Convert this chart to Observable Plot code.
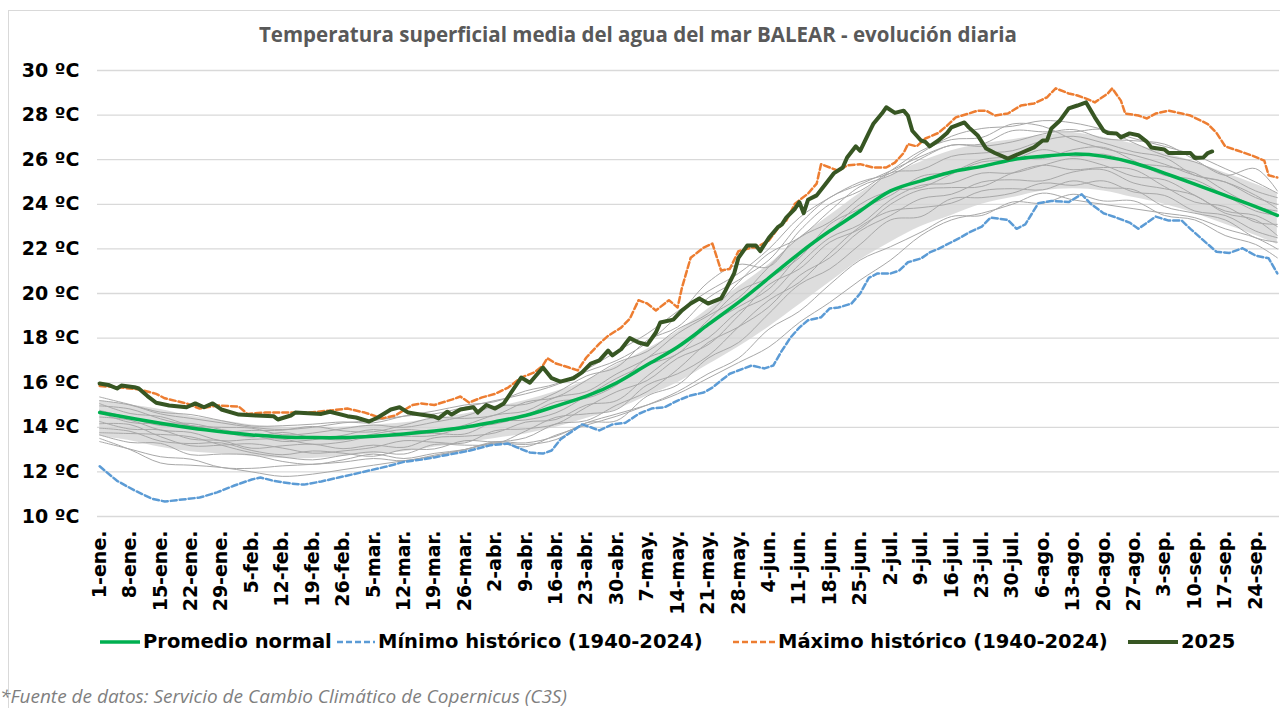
<!DOCTYPE html>
<html><head><meta charset="utf-8">
<script src="https://cdn.jsdelivr.net/npm/d3@7"></script>
<script src="https://cdn.jsdelivr.net/npm/@observablehq/plot@0.6"></script>
<style>
body{margin:0;background:#fff;width:1280px;height:708px;overflow:hidden;position:relative;font-family:"DejaVu Sans",sans-serif}
#frame{position:absolute;left:8px;top:10px;width:1300px;height:720px;border:1px solid #d9d9d9;box-sizing:border-box}
#title{position:absolute;top:20px;left:0;width:1276px;text-align:center;font-family:"Open Sans",sans-serif;font-weight:bold;font-size:20.5px;color:#595959;white-space:nowrap}
#chart{position:absolute;left:0;top:60px}
.leg{position:absolute;top:630px;display:flex;align-items:center;font-family:"DejaVu Sans",sans-serif;font-weight:bold;font-size:19.5px;color:#000;white-space:nowrap}
.leg svg{margin-right:3px}
#caption{position:absolute;left:0;top:683px;font-family:"Open Sans",sans-serif;font-style:italic;font-size:19px;color:#7f7f7f;white-space:nowrap}
</style></head>
<body>
<div id="frame"></div>
<div id="title">Temperatura superficial media del agua del mar BALEAR - evolución diaria</div>
<div id="chart"></div>
<div id="legend"></div>
<div id="caption">*Fuente de datos: Servicio de Cambio Climático de Copernicus (C3S)</div>
<script>
// Days of year (weekly grid) and tick labels
const semanas = [1,8,15,22,29,36,43,50,57,64,71,78,85,92,99,106,113,120,127,134,141,148,155,162,169,176,183,190,197,204,211,218,225,232,239,246,253,260,267,272];
const diasTicks = [1,8,15,22,29,36,43,50,57,64,71,78,85,92,99,106,113,120,127,134,141,148,155,162,169,176,183,190,197,204,211,218,225,232,239,246,253,260,267];
const etiquetasX = ["1-ene.","8-ene.","15-ene.","22-ene.","29-ene.","5-feb.","12-feb.","19-feb.","26-feb.","5-mar.","12-mar.","19-mar.","26-mar.","2-abr.","9-abr.","16-abr.","23-abr.","30-abr.","7-may.","14-may.","21-may.","28-may.","4-jun.","11-jun.","18-jun.","25-jun.","2-jul.","9-jul.","16-jul.","23-jul.","30-jul.","6-ago.","13-ago.","20-ago.","27-ago.","3-sep.","10-sep.","17-sep.","24-sep."];
const ticksY = [10,12,14,16,18,20,22,24,26,28,30];

// Promedio normal (weekly)
const promedio = [14.66,14.42,14.18,13.97,13.8,13.66,13.57,13.54,13.54,13.6,13.7,13.83,14.0,14.25,14.53,14.95,15.4,16.0,16.8,17.6,18.6,19.6,20.7,21.8,22.8,23.7,24.6,25.05,25.45,25.7,26.0,26.15,26.25,26.15,25.85,25.4,24.9,24.4,23.9,23.5];

// Dense core of the historical years (weekly lower / upper edge)
const bandaInf = [13.6,13.4,13.1,12.9,12.8,12.7,12.6,12.6,12.7,12.8,12.9,13.1,13.3,13.5,13.7,14.0,14.4,14.8,15.4,16.0,16.8,17.6,18.5,19.5,20.5,21.5,22.3,23.0,23.5,24.0,24.3,24.6,24.7,24.6,24.3,24.0,23.6,23.1,22.6,22.2];
const bandaSup = [15.2,15.0,14.8,14.5,14.3,14.1,14.0,14.0,14.0,14.1,14.2,14.4,14.6,14.9,15.2,15.6,16.1,16.8,17.5,18.3,19.3,20.3,21.3,22.5,23.5,24.5,25.3,25.9,26.4,26.7,26.9,27.1,27.2,27.0,26.7,26.3,25.9,25.4,24.9,24.5];

// Historical years (gray), weekly values
const gris1 = [15.36,15.02,14.68,14.57,14.3,14.06,14.07,14.14,14.24,14.2,14.5,14.73,15.0,15.15,15.63,15.95,16.6,17.4,18.2,19.2,20.1,20.9,22.0,23.4,24.3,25.0,25.4,26.3,27.05,27.4,27.5,27.75,27.65,27.35,26.95,26.6,26.2,25.6,25.0,24.5];
const gris2 = [14.96,14.82,14.38,14.07,14.0,13.96,13.67,13.74,13.94,14.1,14.0,14.23,14.5,14.95,15.03,15.55,16.3,16.7,17.9,18.5,19.8,20.6,21.5,23.1,24.3,24.9,25.5,26.15,26.65,26.7,27.3,27.25,27.25,27.35,26.75,26.2,25.9,25.3,24.6,24.3];
const gris3 = [14.76,14.42,14.08,14.07,13.8,13.56,13.77,13.54,13.44,13.7,13.9,13.83,14.1,14.55,14.73,15.35,15.6,16.4,17.1,18.2,19.0,19.8,21.2,22.5,23.2,24.3,25.4,25.55,26.15,26.3,26.4,26.85,27.05,26.75,26.35,26.1,25.3,25.0,24.4,23.8];
const gris4 = [14.46,14.32,13.88,13.77,13.4,13.46,13.47,13.24,13.34,13.6,13.6,13.63,14.0,14.15,14.53,15.15,15.3,15.9,17.1,17.6,18.8,20.1,20.7,21.6,23.1,23.8,24.4,25.25,25.45,26.0,26.1,26.05,26.45,26.55,25.95,25.3,25.1,24.4,23.7,23.5];
const gris5 = [14.26,13.92,13.88,13.47,13.4,13.06,13.17,13.24,13.04,13.2,13.1,13.53,13.6,13.75,14.23,14.35,15.0,15.2,16.3,17.3,18.0,19.2,19.9,21.3,22.5,23.1,24.2,24.85,24.95,25.4,25.4,25.75,26.05,25.75,25.25,25.1,24.4,23.7,23.5,23.0];
const gris6 = [13.96,13.82,13.38,13.27,13.3,12.96,12.77,12.94,12.84,12.7,13.0,13.03,13.4,13.35,13.53,14.15,14.3,15.0,15.6,16.6,17.8,18.5,19.4,20.8,21.6,22.8,23.5,24.25,24.45,25.0,25.1,25.05,25.45,25.55,24.95,24.7,24.4,23.6,23.3,22.6];
const gris7 = [13.66,13.32,13.28,12.77,12.8,12.76,12.47,12.34,12.54,12.8,12.6,12.83,13.0,13.3,13.23,13.45,14.2,14.3,15.4,15.9,17.1,17.8,19.1,20.4,21.1,22.2,23.3,23.45,24.25,24.3,24.5,24.95,24.85,25.05,24.55,24.4,23.7,23.5,22.8,22.5];
const gris8 = [13.36,13.02,12.68,12.57,12.2,12.16,12.27,12.34,12.44,12.6,12.5,12.75,13.0,13.3,13.13,13.65,14.1,14.5,15.0,15.6,16.4,17.1,18.4,19.2,20.4,21.5,22.1,22.75,23.45,23.5,24.1,24.05,24.45,24.15,24.15,23.5,23.3,22.6,22.2,21.6];
const gris9 = [15.06,14.62,14.48,14.07,13.8,13.86,13.87,14.04,13.84,13.8,14.1,14.43,14.4,14.55,15.13,15.35,16.1,16.9,17.4,18.4,19.1,20.5,21.8,22.5,23.7,24.8,25.3,26.05,26.65,26.6,26.8,27.15,27.35,26.95,26.85,26.7,26.0,25.3,25.6,24.6];
const gris10 = [14.16,14.12,13.58,13.17,13.2,13.26,13.07,12.84,12.94,13.1,13.4,13.33,13.3,13.85,13.93,14.15,14.9,15.6,16.1,17.1,17.7,19.0,20.4,21.1,22.3,22.9,24.0,24.65,24.75,24.8,25.4,25.75,25.55,25.65,25.55,24.8,24.1,23.9,23.2,23.1];
const gris11 = [13.76,13.72,13.68,13.57,13.2,12.86,12.67,12.54,12.74,12.9,12.8,13.23,13.2,13.25,13.83,14.45,14.6,14.8,15.9,16.4,17.2,18.5,19.7,20.5,21.8,23.0,23.7,23.85,24.05,24.6,24.7,24.65,25.05,24.75,24.65,23.9,23.6,23.3,22.5,22.3];
const gris12 = [14.66,14.22,14.18,14.17,13.9,13.66,13.37,13.44,13.64,13.9,13.7,13.73,13.7,14.25,14.33,14.65,15.4,16.2,16.8,17.3,18.6,19.4,20.2,21.7,22.8,24.0,24.6,24.75,25.35,25.9,26.0,26.45,26.15,26.25,25.85,25.7,25.4,24.6,23.9,23.7];
const gris13 = [13.5,13.0,12.4,12.3,12.2,12.0,11.8,11.9,12.1,12.3,12.5,12.7,13.0,13.35,13.3,13.6,14.2,14.6,15.0,15.5,16.2,16.9,17.6,18.7,19.6,20.6,21.5,22.6,23.3,23.6,24.0,24.5,24.2,24.0,23.8,23.6,23.4,22.9,22.5,22.0];
const gris14 = [15.2,15.0,14.6,14.4,14.2,14.0,13.9,14.0,14.2,14.3,14.5,14.6,14.9,15.2,15.5,15.9,16.5,17.0,17.8,19.0,20.5,21.3,21.2,22.8,24.0,24.6,25.5,26.4,26.9,27.0,27.6,27.5,26.9,26.5,26.2,25.8,25.3,25.0,24.3,24.0];

// Mínimo histórico (1940-2024): [day, ºC]
const minimo = [[1,12.25],[5,11.6],[9,11.17],[13,10.8],[16,10.67],[20,10.76],[24,10.85],[28,11.08],[32,11.39],[36,11.66],[38,11.75],[41,11.6],[45,11.48],[48,11.43],[52,11.57],[56,11.75],[59,11.88],[63,12.06],[67,12.24],[71,12.45],[75,12.55],[78,12.65],[86,12.95],[91,13.2],[95,13.27],[97,13.1],[100,12.87],[103,12.82],[105,12.96],[107,13.45],[110,13.86],[112,14.13],[114,14.0],[116,13.86],[119,14.13],[122,14.2],[125,14.6],[128,14.84],[131,14.9],[134,15.2],[137,15.43],[140,15.56],[142,15.78],[144,16.1],[146,16.4],[151,16.77],[154,16.64],[156,16.77],[158,17.44],[160,18.03],[162,18.47],[164,18.8],[167,18.93],[169,19.33],[171,19.37],[174,19.55],[176,20.0],[178,20.7],[180,20.9],[183,20.9],[185,21.03],[187,21.4],[190,21.57],[192,21.84],[194,22.0],[197,22.3],[199,22.5],[201,22.73],[204,23.0],[206,23.4],[210,23.3],[212,22.9],[214,23.1],[217,24.05],[220,24.15],[224,24.1],[227,24.45],[229,24.03],[232,23.6],[235,23.4],[238,23.18],[240,22.9],[244,23.45],[247,23.27],[250,23.27],[252,22.9],[255,22.38],[258,21.87],[261,21.82],[264,22.03],[267,21.7],[270,21.58],[272,20.9]];

// Máximo histórico (1940-2024): [day, ºC]
const maximo = [[1,15.85],[5,15.8],[10,15.7],[14,15.5],[16,15.3],[21,15.07],[24,14.84],[28,14.98],[33,14.93],[35,14.6],[39,14.66],[43,14.66],[49,14.66],[54,14.75],[58,14.84],[62,14.66],[66,14.4],[69,14.53],[73,15.0],[75,15.07],[78,15.0],[82,15.24],[84,15.38],[86,15.11],[89,15.34],[92,15.5],[95,15.78],[98,16.23],[101,16.46],[103,16.77],[104,17.1],[106,16.86],[109,16.68],[111,16.55],[113,17.13],[116,17.75],[118,18.1],[121,18.47],[123,18.87],[125,19.7],[127,19.55],[129,19.24],[132,19.7],[134,19.37],[135,20.27],[137,21.6],[140,22.06],[142,22.24],[144,21.03],[146,21.1],[148,21.9],[151,22.06],[152,22.06],[155,22.38],[157,22.9],[159,23.27],[161,24.03],[164,24.48],[166,24.93],[167,25.8],[169,25.65],[171,25.5],[173,25.74],[176,25.8],[179,25.65],[182,25.65],[184,25.87],[186,26.3],[187,26.7],[189,26.6],[191,26.95],[194,27.2],[196,27.53],[198,27.9],[201,28.07],[203,28.2],[205,28.2],[207,27.98],[210,28.07],[213,28.43],[216,28.52],[219,28.8],[221,29.2],[224,28.97],[226,28.88],[228,28.74],[230,28.57],[233,28.97],[234,29.2],[236,28.65],[237,28.07],[240,27.98],[242,27.85],[244,28.07],[247,28.2],[250,28.07],[252,27.98],[256,27.6],[258,27.2],[260,26.6],[263,26.4],[266,26.2],[269,25.96],[270,25.3],[272,25.2]];

// 2025: [day, ºC]
const serie2025 = [[1,15.96],[3,15.9],[5,15.74],[6,15.87],[9,15.8],[10,15.74],[12,15.4],[14,15.1],[17,14.98],[21,14.9],[23,15.07],[25,14.9],[27,15.07],[29,14.8],[33,14.57],[37,14.53],[41,14.5],[42,14.35],[45,14.53],[46,14.66],[52,14.6],[54,14.7],[58,14.5],[60,14.44],[63,14.26],[65,14.44],[68,14.8],[70,14.9],[72,14.66],[74,14.6],[78,14.48],[79,14.4],[81,14.7],[82,14.57],[84,14.8],[87,14.9],[88,14.66],[90,15.0],[92,14.84],[94,15.07],[96,15.65],[98,16.23],[100,16.0],[103,16.68],[105,16.2],[107,16.05],[110,16.2],[112,16.46],[114,16.86],[116,17.0],[118,17.44],[119,17.22],[121,17.5],[123,18.0],[125,17.8],[127,17.7],[129,18.25],[130,18.7],[133,18.83],[135,19.24],[137,19.55],[139,19.78],[141,19.55],[144,19.78],[145,20.13],[147,20.9],[148,21.6],[150,22.15],[152,22.15],[153,21.9],[155,22.5],[157,22.96],[158,23.1],[159,23.4],[161,23.8],[162,24.1],[163,23.6],[164,24.2],[166,24.4],[168,24.9],[170,25.4],[172,25.65],[173,26.1],[175,26.6],[176,26.4],[177,26.8],[178,27.2],[179,27.6],[181,28.07],[182,28.35],[184,28.1],[186,28.2],[187,27.97],[188,27.3],[190,26.86],[191,26.8],[192,26.6],[194,26.86],[196,27.2],[197,27.45],[200,27.67],[201,27.45],[203,27.1],[205,26.5],[207,26.3],[210,26.05],[213,26.3],[216,26.55],[218,26.86],[219,26.86],[220,27.4],[222,27.76],[224,28.3],[226,28.43],[228,28.57],[230,27.9],[232,27.3],[233,27.2],[235,27.18],[236,27.0],[238,27.18],[240,27.1],[242,26.8],[243,26.55],[246,26.46],[247,26.3],[250,26.3],[252,26.3],[253,26.08],[255,26.1],[256,26.3],[257,26.37]];

const grises = [gris1,gris2,gris3,gris4,gris5,gris6,gris7,gris8,gris9,gris10,gris11,gris12,gris13,gris14];
const datosGris = grises.flatMap((s, k) => s.map((t, i) => ({dia: semanas[i], t, serie: k})));
const datosProm = promedio.map((t, i) => ({dia: semanas[i], t}));
const datosBanda = semanas.map((d, i) => ({dia: d, y1: bandaInf[i], y2: bandaSup[i]}));

const colores = {normal:"#00b050", min:"#5b9bd5", max:"#ed7d31", y2025:"#375623", gris:"#a8a8a8", banda:"#d2d2d2"};

const chart = Plot.plot({
  width: 1280, height: 560,
  marginTop: 10, marginBottom: 104, marginLeft: 97, marginRight: 1,
  style: {fontFamily: "DejaVu Sans, sans-serif", fontSize: "19px", fontWeight: "bold", color: "#000", background: "transparent"},
  x: {domain: [0.5, 272.5]},
  y: {domain: [10, 30]},
  marks: [
    Plot.gridY(ticksY, {stroke: "#d9d9d9", strokeOpacity: 1, strokeWidth: 1.3}),
    Plot.axisY(ticksY, {tickSize: 0, tickPadding: 18, tickFormat: d => d + " ºC", label: null}),
    Plot.axisX(diasTicks, {tickSize: 0, tickPadding: 14, tickRotate: -90, tickFormat: d => etiquetasX[diasTicks.indexOf(d)], label: null}),
    Plot.areaY(datosBanda, {x: "dia", y1: "y1", y2: "y2", fill: colores.banda, fillOpacity: 0.75, curve: "catmull-rom"}),
    Plot.line(datosGris, {x: "dia", y: "t", z: "serie", stroke: colores.gris, strokeWidth: 1, curve: "catmull-rom"}),
    Plot.line(datosProm, {x: "dia", y: "t", stroke: colores.normal, strokeWidth: 3.5, curve: "natural"}),
    Plot.line(minimo, {x: d => d[0], y: d => d[1], stroke: colores.min, strokeWidth: 2.5, strokeDasharray: "6,3"}),
    Plot.line(maximo, {x: d => d[0], y: d => d[1], stroke: colores.max, strokeWidth: 2.5, strokeDasharray: "6,3"}),
    Plot.line(serie2025, {x: d => d[0], y: d => d[1], stroke: colores.y2025, strokeWidth: 4, strokeLinejoin: "round"})
  ]
});
document.getElementById("chart").appendChild(chart);

// Legend
const leyenda = [
  {label: "Promedio normal", color: colores.normal, dash: null, w: 3.5, left: 100, len: 40},
  {label: "Mínimo histórico (1940-2024)", color: colores.min, dash: "6,3", w: 2.5, left: 337, len: 38},
  {label: "Máximo histórico (1940-2024)", color: colores.max, dash: "6,3", w: 2.5, left: 733, len: 42},
  {label: "2025", color: colores.y2025, dash: null, w: 4, left: 1128, len: 50}
];
const legEl = document.getElementById("legend");
for (const it of leyenda) {
  const d = document.createElement("div");
  d.className = "leg";
  d.style.left = it.left + "px";
  d.innerHTML = `<svg width="${it.len}" height="20"><line x1="0" x2="${it.len}" y1="10" y2="10" stroke="${it.color}" stroke-width="${it.w}" ${it.dash ? `stroke-dasharray="${it.dash}"` : ""}/></svg><span>${it.label}</span>`;
  legEl.appendChild(d);
}
</script>
</body></html>
